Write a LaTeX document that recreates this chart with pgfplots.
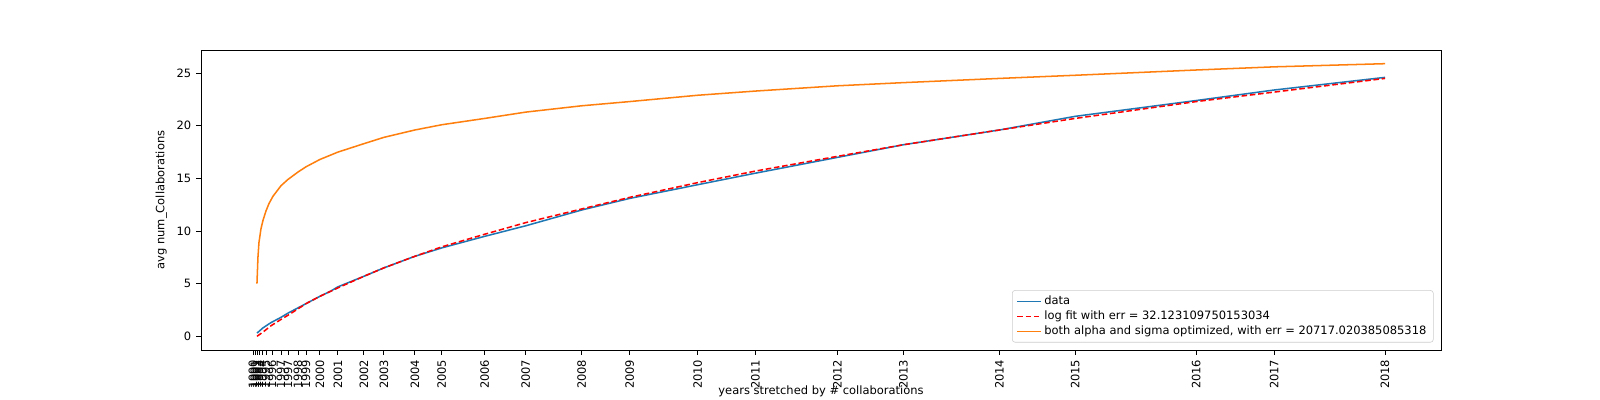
\documentclass[border=0pt]{standalone}
\usepackage{pgfplots}
\pgfplotsset{compat=1.18}
\usepackage{fontspec}
\setmainfont{DejaVu Sans}
\definecolor{mblue}{HTML}{1F77B4}
\definecolor{morange}{HTML}{FF7F0E}
\begin{document}
\begin{tikzpicture}
\path[use as bounding box] (-2.01in,-0.5in) rectangle (13.99in,3.5in);
\begin{axis}[
  at={(0,0)}, anchor=south west,
  scale only axis, width=12.4in, height=3.0in,
  xmin=200, xmax=1441, ymin=-1.3, ymax=27.2,
  /pgf/number format/assume math mode=true,
  font=\fontsize{8.3}{10}\selectfont,
  ytick={0,5,10,15,20,25},
  xtick={252,254,256,258,261,265,271,280,287,297,305,319,337,363,383,414,441,484,525,581,629,697,755,837,903,999,1075,1196,1274,1385},
  xticklabels={1990,1991,1992,1993,1994,1995,1996,1997,1997,1998,1999,2000,2001,2002,2003,2004,2005,2006,2007,2008,2009,2010,2011,2012,2013,2014,2015,2016,2017,2018},
  x tick label style={rotate=90, anchor=east},
  xtick pos=bottom, ytick pos=left,
  tick align=outside, tick style={black, line width=0.6pt},
  major tick length=3.5pt,
  axis line style={line width=0.6pt},
  xlabel={years stretched by \# collaborations},
  ylabel={avg num\_Collaborations},
  xlabel style={at={(axis description cs:0.5,0)}, anchor=north, yshift=-0.31in},
  legend cell align=left,
  legend style={draw=black!20, rounded corners=2pt, font=\fontsize{8.3}{10}\selectfont, at={(0.994,0.025)}, anchor=south east, row sep=-1pt},
]
\addplot[mblue, line width=1.1pt] coordinates {(256,0.3)(262,0.8)(270,1.3)(280,1.8)(287,2.2)(297,2.7)(305,3.1)(319,3.8)(330,4.3)(337,4.7)(363,5.7)(383,6.5)(414,7.6)(441,8.4)(484,9.5)(525,10.5)(581,12.0)(629,13.1)(697,14.4)(755,15.5)(837,17.0)(903,18.2)(999,19.6)(1075,20.9)(1196,22.4)(1274,23.4)(1385,24.6)};
\addlegendentry{data}
\addplot[red, line width=1.1pt, dash pattern=on 4pt off 2pt] coordinates {(256,0)(262,0.4)(270,1.0)(280,1.6)(287,2.0)(297,2.6)(305,3.1)(319,3.8)(337,4.6)(363,5.7)(383,6.5)(414,7.6)(441,8.5)(484,9.7)(525,10.8)(581,12.1)(629,13.2)(697,14.6)(755,15.7)(837,17.1)(903,18.2)(999,19.6)(1075,20.7)(1196,22.3)(1274,23.2)(1385,24.5)};
\addlegendentry{log fit with err = 32.123109750153034}
\addplot[morange, line width=1.1pt] coordinates {(256,5)(257,7.5)(258,8.9)(260,10.2)(262,11.0)(265,11.9)(268,12.6)(272,13.3)(280,14.3)(287,14.9)(297,15.6)(305,16.1)(319,16.8)(337,17.5)(363,18.3)(383,18.9)(414,19.6)(441,20.1)(484,20.7)(525,21.3)(581,21.9)(629,22.3)(697,22.9)(755,23.3)(837,23.8)(903,24.1)(999,24.5)(1075,24.8)(1196,25.3)(1274,25.6)(1385,25.9)};
\addlegendentry{both alpha and sigma optimized, with err = 20717.020385085318}
\end{axis}
\end{tikzpicture}
\end{document}
